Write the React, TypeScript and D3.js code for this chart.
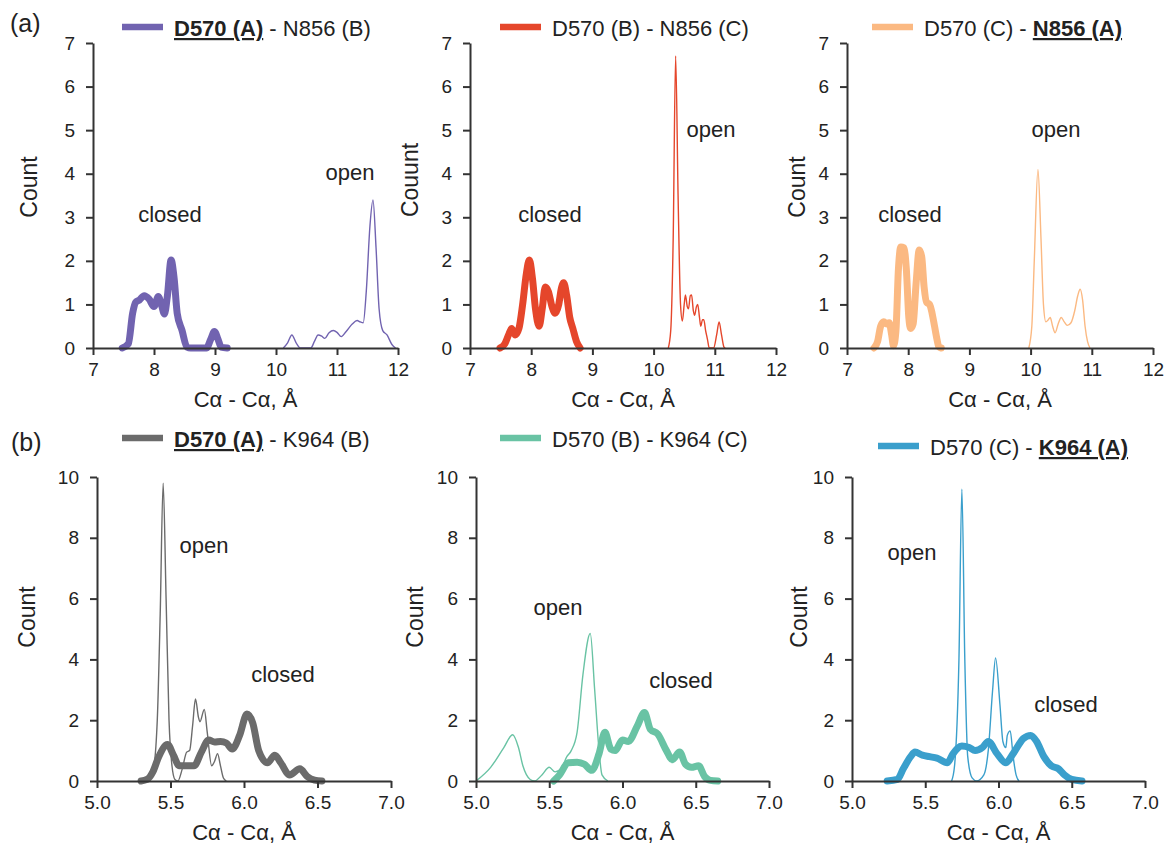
import { useEffect, useRef } from "react";
import * as d3 from "d3";

type Pt = [number, number];

// (a) D570 - N856 C-alpha distance distributions
const a1Closed: Pt[] = [[7.48,0],[7.58,0.1],[7.65,0.8],[7.7,1.05],[7.76,1.1],[7.84,1.2],[7.92,1.12],[8.0,0.95],[8.07,1.18],[8.12,1.0],[8.17,0.78],[8.22,1.2],[8.28,2.02],[8.33,1.6],[8.38,0.8],[8.46,0.4],[8.54,0.02],[8.6,0],[8.86,0],[8.93,0.2],[8.99,0.38],[9.05,0.2],[9.1,0.02],[9.2,0]];
const a1Open: Pt[] = [[10.12,0],[10.19,0.12],[10.26,0.3],[10.33,0.12],[10.4,0],[10.57,0],[10.63,0.15],[10.69,0.3],[10.75,0.27],[10.8,0.22],[10.87,0.35],[10.94,0.4],[11.0,0.36],[11.07,0.26],[11.15,0.38],[11.25,0.55],[11.33,0.63],[11.38,0.6],[11.43,0.58],[11.48,1.3],[11.54,2.8],[11.59,3.4],[11.64,2.3],[11.69,0.9],[11.75,0.4],[11.82,0.3],[11.9,0.08],[11.96,0]];
const a2Closed: Pt[] = [[7.49,0],[7.57,0.1],[7.63,0.3],[7.68,0.45],[7.74,0.3],[7.8,0.45],[7.86,1.0],[7.92,1.7],[7.97,2.02],[8.02,1.6],[8.07,0.9],[8.13,0.5],[8.18,0.9],[8.23,1.4],[8.28,1.3],[8.34,0.95],[8.39,0.8],[8.45,1.0],[8.49,1.35],[8.53,1.5],[8.58,1.2],[8.63,0.7],[8.68,0.45],[8.74,0.15],[8.8,0]];
const a2Open: Pt[] = [[10.24,0],[10.28,0.4],[10.32,2.5],[10.36,6.7],[10.4,3.5],[10.44,1.0],[10.47,0.62],[10.5,1.0],[10.52,1.22],[10.55,0.95],[10.57,0.9],[10.6,1.2],[10.62,1.22],[10.65,0.85],[10.67,0.75],[10.7,0.95],[10.72,1.0],[10.75,0.7],[10.77,0.5],[10.8,0.65],[10.82,0.65],[10.85,0.4],[10.88,0.2],[10.91,0],[10.98,0],[11.03,0.3],[11.07,0.6],[11.11,0.3],[11.15,0.02],[11.17,0]];
const a3Closed: Pt[] = [[7.44,0],[7.5,0.15],[7.55,0.5],[7.6,0.6],[7.65,0.55],[7.69,0.58],[7.73,0.3],[7.76,0.05],[7.8,0.4],[7.84,1.8],[7.88,2.32],[7.93,2.3],[7.97,1.8],[8.01,0.7],[8.04,0.45],[8.08,0.55],[8.13,1.5],[8.18,2.25],[8.22,2.1],[8.26,1.4],[8.3,1.05],[8.35,1.0],[8.39,0.8],[8.43,0.5],[8.47,0.2],[8.5,0.03],[8.54,0]];
const a3Open: Pt[] = [[9.97,0],[10.02,0.5],[10.06,2.0],[10.12,4.1],[10.17,2.5],[10.21,1.0],[10.25,0.6],[10.29,0.65],[10.32,0.7],[10.36,0.5],[10.4,0.35],[10.45,0.55],[10.5,0.7],[10.55,0.6],[10.6,0.52],[10.66,0.58],[10.72,0.85],[10.77,1.2],[10.81,1.35],[10.85,1.1],[10.89,0.5],[10.93,0.15],[10.97,0]];

// (b) D570 - K964
const b1Closed: Pt[] = [[5.3,0],[5.34,0.05],[5.38,0.3],[5.42,0.8],[5.48,1.2],[5.52,0.85],[5.56,0.5],[5.6,0.5],[5.66,0.5],[5.71,0.95],[5.76,1.35],[5.8,1.28],[5.84,1.3],[5.88,1.25],[5.92,1.05],[5.97,1.5],[6.02,2.2],[6.06,1.9],[6.1,1.0],[6.16,0.6],[6.21,0.85],[6.25,0.6],[6.31,0.2],[6.38,0.4],[6.43,0.15],[6.48,0.03],[6.53,0]];
const b1Open: Pt[] = [[5.34,0],[5.38,0.3],[5.41,2.0],[5.43,5.5],[5.45,9.8],[5.47,6.0],[5.49,2.0],[5.51,0.5],[5.53,0.05],[5.55,0],[5.58,0.4],[5.61,0.95],[5.63,1.0],[5.65,1.8],[5.67,2.7],[5.69,2.1],[5.7,1.95],[5.73,2.35],[5.75,1.6],[5.78,0.5],[5.8,0.65],[5.82,0.9],[5.84,0.5],[5.86,0.1],[5.88,0]];
const b2Closed: Pt[] = [[5.53,0],[5.57,0.2],[5.63,0.6],[5.69,0.62],[5.74,0.55],[5.79,0.35],[5.84,0.9],[5.88,1.6],[5.92,1.05],[5.95,1.0],[6.0,1.35],[6.04,1.3],[6.1,1.8],[6.15,2.25],[6.19,1.7],[6.24,1.55],[6.3,1.0],[6.34,0.7],[6.39,0.95],[6.43,0.55],[6.47,0.45],[6.52,0.5],[6.56,0.15],[6.6,0.02],[6.65,0]];
const b2Open: Pt[] = [[5.0,0],[5.1,0.45],[5.19,1.1],[5.25,1.52],[5.29,1.1],[5.32,0.5],[5.37,0.05],[5.4,0],[5.45,0.2],[5.5,0.45],[5.54,0.3],[5.58,0.4],[5.62,0.8],[5.65,1.0],[5.69,1.6],[5.73,3.5],[5.78,4.85],[5.81,3.0],[5.84,1.0],[5.86,0.2],[5.9,0]];
const b3Closed: Pt[] = [[5.24,0],[5.31,0.05],[5.35,0.4],[5.4,0.8],[5.43,0.95],[5.48,0.85],[5.53,0.8],[5.58,0.75],[5.65,0.6],[5.69,0.9],[5.75,1.15],[5.8,1.1],[5.84,1.0],[5.89,1.1],[5.93,1.3],[5.99,0.9],[6.05,0.6],[6.1,0.9],[6.17,1.4],[6.22,1.5],[6.26,1.3],[6.31,0.8],[6.36,0.5],[6.41,0.4],[6.45,0.2],[6.5,0.05],[6.57,0]];
const b3Open: Pt[] = [[5.68,0],[5.7,0.5],[5.73,4.0],[5.75,9.6],[5.77,4.0],[5.79,0.8],[5.82,0.1],[5.85,0],[5.9,0.2],[5.93,1.0],[5.96,3.0],[5.98,4.05],[6.01,2.5],[6.03,1.3],[6.05,1.1],[6.06,1.5],[6.08,1.65],[6.1,0.8],[6.12,0.2],[6.14,0]];

const aXTicks = [7, 8, 9, 10, 11, 12];
const aYTicks = [0, 1, 2, 3, 4, 5, 6, 7];
const bXTicks = [5.0, 5.5, 6.0, 6.5, 7.0];
const bYTicks = [0, 2, 4, 6, 8, 10];

// legend label pieces: [bold+underlined?, text]
const legendA1: [boolean, string][] = [[true, "D570 (A)"], [false, " - N856 (B)"]];
const legendA2: [boolean, string][] = [[false, "D570 (B) - N856 (C)"]];
const legendA3: [boolean, string][] = [[false, "D570 (C) - "], [true, "N856 (A)"]];
const legendB1: [boolean, string][] = [[true, "D570 (A)"], [false, " - K964 (B)"]];
const legendB2: [boolean, string][] = [[false, "D570 (B) - K964 (C)"]];
const legendB3: [boolean, string][] = [[false, "D570 (C) - "], [true, "K964 (A)"]];

const FONT = "'Liberation Sans', Arial, Helvetica, sans-serif";
const AXIS = "#333";
const TXT = "#222";

interface Panel {
  x0: number; x1: number; y0: number; y1: number;
  xDomain: [number, number]; yDomain: [number, number];
  xTicks: number[]; yTicks: number[]; xFmt: (v: number) => string;
  closed: Pt[]; open: Pt[]; color: string;
  legend: [boolean, string][]; legX: number; legY: number;
  yLabel: string; yLabX: number; yLabY: number;
  openPos: [number, number]; closedPos: [number, number];
}

const intFmt = (v: number) => String(v);
const decFmt = d3.format(".1f");

const panels: Panel[] = [
  { x0: 93, x1: 398, y0: 348, y1: 43, xDomain: [7, 12], yDomain: [0, 7], xTicks: aXTicks, yTicks: aYTicks, xFmt: intFmt,
    closed: a1Closed, open: a1Open, color: "#7163b0", legend: legendA1, legX: 122, legY: 27,
    yLabel: "Count", yLabX: 37, yLabY: 187, openPos: [350, 180], closedPos: [170, 222] },
  { x0: 470, x1: 776, y0: 348, y1: 43, xDomain: [7, 12], yDomain: [0, 7], xTicks: aXTicks, yTicks: aYTicks, xFmt: intFmt,
    closed: a2Closed, open: a2Open, color: "#e5462b", legend: legendA2, legX: 500, legY: 27,
    yLabel: "Couunt", yLabX: 418, yLabY: 180, openPos: [711, 137], closedPos: [550, 222] },
  { x0: 847, x1: 1153, y0: 348, y1: 43, xDomain: [7, 12], yDomain: [0, 7], xTicks: aXTicks, yTicks: aYTicks, xFmt: intFmt,
    closed: a3Closed, open: a3Open, color: "#fbb982", legend: legendA3, legX: 872, legY: 27,
    yLabel: "Count", yLabX: 805, yLabY: 187, openPos: [1056, 137], closedPos: [910, 222] },
  { x0: 97, x1: 391, y0: 781, y1: 477, xDomain: [5, 7], yDomain: [0, 10], xTicks: bXTicks, yTicks: bYTicks, xFmt: decFmt,
    closed: b1Closed, open: b1Open, color: "#6b6b6b", legend: legendB1, legX: 122, legY: 438,
    yLabel: "Count", yLabX: 35, yLabY: 617, openPos: [204, 553], closedPos: [283, 682] },
  { x0: 476, x1: 769, y0: 781, y1: 477, xDomain: [5, 7], yDomain: [0, 10], xTicks: bXTicks, yTicks: bYTicks, xFmt: decFmt,
    closed: b2Closed, open: b2Open, color: "#69c3a4", legend: legendB2, legX: 500, legY: 438,
    yLabel: "Count", yLabX: 423, yLabY: 617, openPos: [558, 615], closedPos: [681, 688] },
  { x0: 852, x1: 1145, y0: 781, y1: 477, xDomain: [5, 7], yDomain: [0, 10], xTicks: bXTicks, yTicks: bYTicks, xFmt: decFmt,
    closed: b3Closed, open: b3Open, color: "#3a9fcc", legend: legendB3, legX: 878, legY: 446,
    yLabel: "Count", yLabX: 807, yLabY: 617, openPos: [912, 560], closedPos: [1066, 712] },
];

export default function App() {
  const ref = useRef<SVGSVGElement>(null);

  useEffect(() => {
    if (!ref.current) return;
    const svg = d3.select(ref.current);
    svg.selectAll("*").remove();
    svg.append("rect").attr("width", 1167).attr("height", 844).attr("fill", "#fff");

    svg.append("text").attr("x", 10).attr("y", 32).attr("font-size", 25).attr("fill", TXT).text("(a)");
    svg.append("text").attr("x", 11).attr("y", 451).attr("font-size", 25).attr("fill", TXT).text("(b)");

    panels.forEach((p) => {
      const x = d3.scaleLinear().domain(p.xDomain).range([p.x0, p.x1]);
      const y = d3.scaleLinear().domain(p.yDomain).range([p.y0, p.y1]);
      const g = svg.append("g");

      const line = d3.line<Pt>().x((d) => x(d[0])).y((d) => y(d[1])).curve(d3.curveMonotoneX);

      g.append("path").datum(p.closed).attr("d", line).attr("fill", "none")
        .attr("stroke", p.color).attr("stroke-width", 7).attr("stroke-linejoin", "round").attr("stroke-linecap", "round");
      g.append("path").datum(p.open).attr("d", line).attr("fill", "none")
        .attr("stroke", p.color).attr("stroke-width", 1.4);

      const xa = g.append("g").attr("transform", `translate(0,${p.y0})`)
        .call(d3.axisBottom(x).tickValues(p.xTicks).tickFormat((v) => p.xFmt(v as number)).tickSize(7).tickSizeOuter(0).tickPadding(8));
      const ya = g.append("g").attr("transform", `translate(${p.x0},0)`)
        .call(d3.axisLeft(y).tickValues(p.yTicks).tickFormat((v) => intFmt(v as number)).tickSize(7).tickSizeOuter(0).tickPadding(11));
      [xa, ya].forEach((a) => {
        a.select(".domain").attr("stroke", AXIS).attr("stroke-width", 2);
        a.selectAll(".tick line").attr("stroke", AXIS).attr("stroke-width", 2);
        a.selectAll(".tick text").attr("fill", TXT).attr("font-size", 19).attr("font-family", FONT);
      });

      g.append("text").attr("x", (p.x0 + p.x1) / 2).attr("y", p.y0 + 59)
        .attr("text-anchor", "middle").attr("font-size", 22).attr("fill", TXT).text("Cα - Cα, Å");

      g.append("text").attr("transform", `translate(${p.yLabX},${p.yLabY}) rotate(-90)`)
        .attr("text-anchor", "middle").attr("font-size", 23).attr("fill", TXT).text(p.yLabel);

      g.append("text").attr("x", p.openPos[0]).attr("y", p.openPos[1]).attr("text-anchor", "middle")
        .attr("font-size", 22).attr("fill", TXT).text("open");
      g.append("text").attr("x", p.closedPos[0]).attr("y", p.closedPos[1]).attr("text-anchor", "middle")
        .attr("font-size", 22).attr("fill", TXT).text("closed");

      // legend
      g.append("line").attr("x1", p.legX).attr("x2", p.legX + 41).attr("y1", p.legY).attr("y2", p.legY)
        .attr("stroke", p.color).attr("stroke-width", 6.5);
      const lt = g.append("text").attr("x", p.legX + 52).attr("y", p.legY + 9)
        .attr("font-size", 22).attr("fill", TXT).style("white-space", "pre");
      p.legend.forEach(([bold, t]) => {
        const s = lt.append("tspan").text(t);
        if (bold) s.attr("font-weight", "bold").attr("text-decoration", "underline");
      });
    });
  }, []);

  return (
    <svg ref={ref} width={1167} height={844}
      style={{ position: "absolute", left: 0, top: 0, fontFamily: FONT }} />
  );
}
